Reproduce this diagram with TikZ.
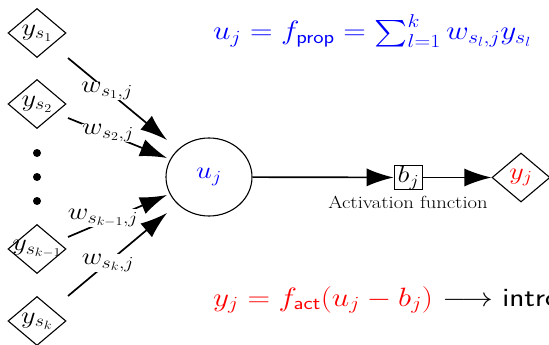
\RequirePackage{fix-cm}
\documentclass[tikz,border=0pt]{standalone}
\usepackage{graphicx}
\DeclareFontFamily{OMX}{cmex}{}
\DeclareFontShape{OMX}{cmex}{m}{n}{<->cmex10}{}
\usetikzlibrary{shapes.geometric,arrows.meta}
\newcommand{\sx}[1]{\scalebox{1.18}[1]{#1}}
\newcommand{\dz}[1]{\makebox[0pt]{\sx{$#1$}}}
\begin{document}
\begin{tikzpicture}[x=1pt,y=-1pt,
  big/.style={font=\fontsize{24}{28}\selectfont},
  huge/.style={font=\fontsize{26.5}{31}\selectfont},
  dia/.style={draw,shape=diamond,inner sep=0pt,minimum width=58pt,minimum height=49pt,line width=1.1pt,big},
  wlab/.style={fill=white,inner sep=0.5pt,big},
  arr/.style={line width=1.7pt,-{Latex[length=27pt,width=18pt]}},
  dot/.style={circle,fill=black,inner sep=0pt,minimum size=8pt}
]
\useasboundingbox (0,0) rectangle (549,345);
% inputs
\node[dia] (s1) at (37,33) {\dz{y_{s_1}}};
\node[dia] (s2) at (37,104) {\dz{y_{s_2}}};
\node[dia] (sk1) at (37,249) {\dz{y_{s_{k-1}}}};
\node[dia] (sk) at (37,321) {\dz{y_{s_k}}};
\node[dot] (d1) at (37,153) {};
\node[dot] (d2) at (37,177) {};
\node[dot] (d3) at (37,201) {};
% neuron
\node[draw,ellipse,line width=1.1pt,minimum width=86pt,minimum height=78pt,big,text=blue] (u) at (209,177) {\sx{$u_j$}};
\node[draw,rectangle,line width=1.1pt,inner xsep=3.5pt,inner ysep=0.5pt,big] (b) at (408.5,177.5) {\sx{$b_j$}};
\node[font=\fontsize{17.5}{21}\selectfont] (act) at (408,202) {\sx{Activation function}};
\node[dia,text=red] (y) at (521,177.5) {\dz{y_j}};
% connectors
\coordinate (a1) at (68,58);
\coordinate (a2) at (68,118);
\coordinate (a3) at (68,237);
\coordinate (a4) at (68,296);
\coordinate (e1) at (167,140);
\coordinate (e2) at (167,158);
\coordinate (e3) at (167,195);
\coordinate (e4) at (167,213);
\draw[arr] (a1) -- (e1);
\draw[arr] (a2) -- (e2);
\draw[arr] (a3) -- (e3);
\draw[arr] (a4) -- (e4);
\node[wlab] (w1) at (107,91) {\sx{$w_{s_1,j}$}};
\node[wlab] (w2) at (108,133) {\sx{$w_{s_2,j}$}};
\node[wlab] (w3) at (103,218) {\sx{$w_{s_{k-1},j}$}};
\node[wlab] (w4) at (108,263) {\sx{$w_{s_k,j}$}};
\draw[arr] (u) -- (b);
\draw[arr] (b) -- (y);
% formulas
\node[huge,text=blue,anchor=base west,inner sep=0pt] (f1) at (213,40) {\sx{$u_j = f_{\mathsf{prop}} = \sum_{l=1}^k w_{s_l,j} y_{s_l}$}};
\node[huge,anchor=base west,inner sep=0pt] (f2) at (213,306) {\sx{$\color{red} y_j = f_{\mathsf{act}}(u_j - b_j)$ $\longrightarrow$ \sffamily intro}};
\end{tikzpicture}
\end{document}
